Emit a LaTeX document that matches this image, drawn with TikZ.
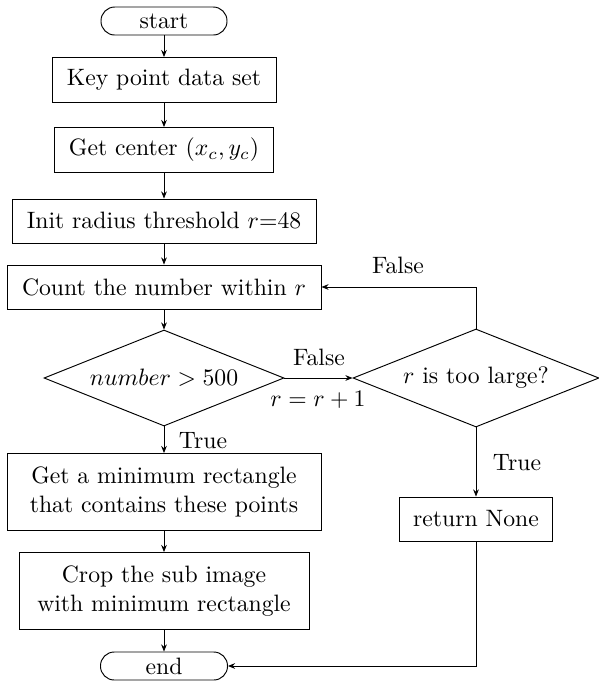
\documentclass[tikz,border=0pt]{standalone}
\usetikzlibrary{arrows.meta,shapes.geometric}
\def\u{0.422pt}
\tikzset{
  box/.style={draw, rectangle, inner sep=0pt, align=center},
  term/.style={draw, rectangle, rounded corners=5.8pt, inner sep=0pt},
  decision/.style={draw, diamond, aspect=2.5, inner sep=0pt},
  lbl/.style={inner sep=0pt},
  flow/.style={-{Stealth[length=3pt,width=2.4pt]}},
}
\begin{document}
\begin{tikzpicture}[x=0.422pt,y=-0.422pt]
\useasboundingbox (0,0) rectangle (599,681);
\node[term, minimum width=126*\u, minimum height=28*\u] (start) at (164,21) {start};
\node[box, minimum width=224*\u, minimum height=45*\u] (key) at (164,80) {Key point data set};
\node[box, minimum width=219*\u, minimum height=45*\u] (cen) at (164,150) {Get center $(x_c,y_c)$};
\node[box, minimum width=304*\u, minimum height=44*\u] (init) at (164,221) {Init radius threshold $r$=48};
\node[box, minimum width=314*\u, minimum height=44*\u] (count) at (164,287) {Count the number within $r$};
\node[decision, minimum width=240*\u, minimum height=96*\u] (d1) at (164,378) {$number>500$};
\node[decision, minimum width=246*\u, minimum height=98*\u] (d2) at (476,378) {$r$ is too large?};
\node[box, minimum width=314*\u, minimum height=77*\u] (getmin) at (164,492) {Get a minimum rectangle\\that contains these points};
\node[box, minimum width=290*\u, minimum height=77*\u] (crop) at (164,591) {Crop the sub image\\with minimum rectangle};
\node[term, minimum width=127*\u, minimum height=28*\u] (end) at (164,666) {end};
\node[box, minimum width=153*\u, minimum height=44*\u] (ret) at (476,519) {return None};

\draw[flow] (start) -- (key);
\draw[flow] (key) -- (cen);
\draw[flow] (cen) -- (init);
\draw[flow] (init) -- (count);
\draw[flow] (count) -- (d1);
\draw[flow] (d1) -- (getmin);
\draw[flow] (getmin) -- (crop);
\draw[flow] (crop) -- (end);
\draw[flow] (d1.east) -- (d2.west);
\draw[flow] (d2.north) |- (count.east);
\draw[flow] (d2.south) -- (ret.north);
\draw[flow] (ret.south) |- (end.east);

\node[lbl] (lf1) at (319,357) {False};
\node[lbl] (lr) at (318,400) {$r=r+1$};
\node[lbl] (lt1) at (203,441) {True};
\node[lbl] (lf2) at (398,265) {False};
\node[lbl] (lt2) at (517,463) {True};
\end{tikzpicture}
\end{document}
